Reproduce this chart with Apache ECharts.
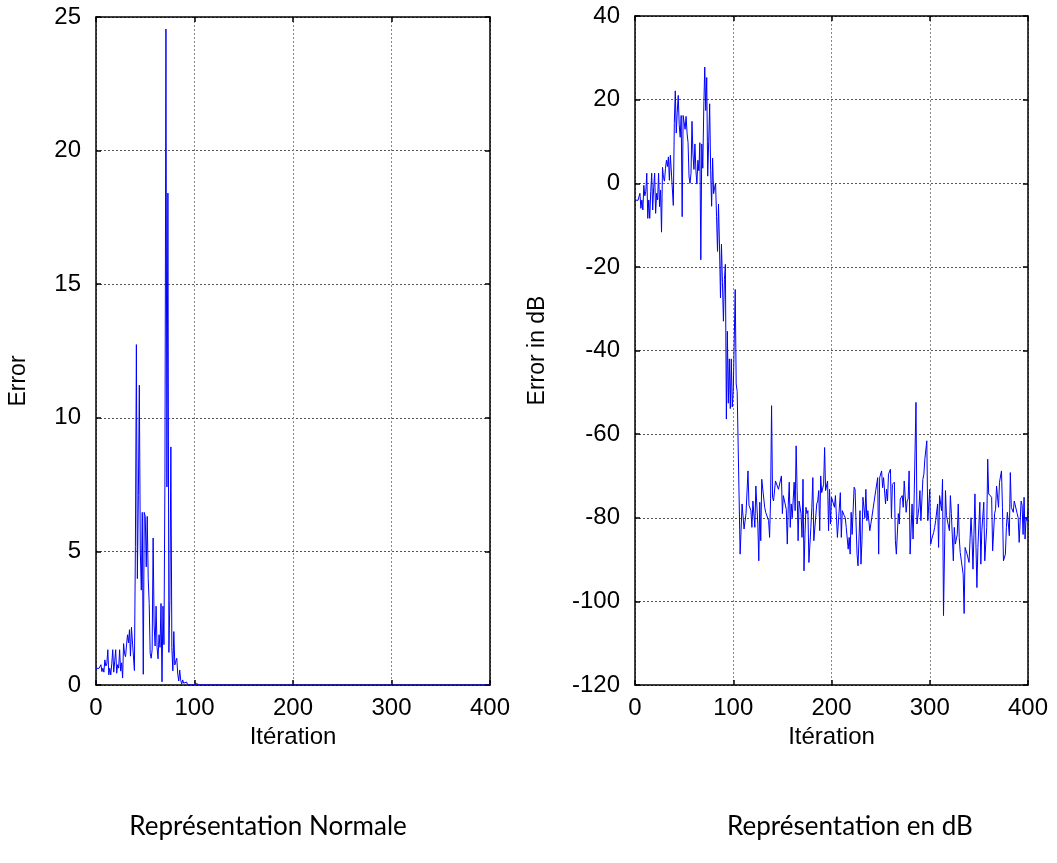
<!DOCTYPE html>
<html>
<head>
<meta charset="utf-8">
<script src="https://cdn.jsdelivr.net/npm/echarts@6/dist/echarts.min.js"></script>
<style>
html,body{margin:0;padding:0;background:#fff;}
#chart{width:1057px;height:863px;}
</style>
</head>
<body>
<div id="chart"></div>
<script>
// ---------- DATA ----------
const xTicks = [0, 100, 200, 300, 400];
const normTicks = [0, 5, 10, 15, 20, 25];
const dbTicks = [-120, -100, -80, -60, -40, -20, 0, 20, 40];

// Left plot: error (linear)
const normIterations = [
  0,1,2,3,4,5,6,7,8,9,10,11,12,13,14,15,16,17,18,19,
  20,21,22,23,24,25,26,27,28,29,30,31,32,33,34,35,36,37,38,39,
  40,41,42,43,44,45,46,47,48,49,50,51,52,53,54,55,56,57,58,59,
  60,61,62,63,64,65,66,67,68,69,70,71,72,73,74,75,76,77,78,79,
  80,81,82,83,84,85,86,87,88,89,90,91,92,93,94,95,96,97,98,99,
  100,101,102,103,104,105,106,107,150,200,250,300,350,400
];
const normErrors = [
  0.63,0.63,0.62,0.62,0.63,0.76,0.50,0.63,0.48,0.94,0.71,0.79,1.32,0.38,0.63,0.38,0.79,1.32,0.48,0.89,
  1.32,0.44,0.76,0.63,1.32,0.52,0.83,0.26,1.55,1.17,1.06,1.50,1.88,1.58,2.07,1.08,2.16,2.11,2.16,0.54,
  5.19,12.74,3.98,7.08,11.22,5.01,3.55,6.46,0.40,6.46,6.31,4.42,6.31,3.98,3.05,1.19,1.00,1.32,5.50,2.24,
  1.46,2.95,1.41,0.98,1.88,1.41,3.05,0.12,2.95,1.51,7.94,24.55,7.41,18.41,1.22,3.16,8.91,1.41,0.53,2.00,
  0.75,0.89,1.00,0.40,0.15,0.56,0.18,0.04,0.19,0.07,0.02,0.07,0.11,0.002,0.017,0.002,0.008,0.002,0.008,0.002,
  0.003,0.003,0.054,0.004,0.003,0.003,0.00004,0.0001,0.0001,0.0001,0.0001,0.0001,0.0001,0.0001
];

// Right plot: error in dB
const dbIterations = [
  0,1,2,3,4,5,6,7,8,9,10,11,12,13,14,15,16,17,18,19,
  20,21,22,23,24,25,26,27,28,29,30,31,32,33,34,35,36,37,38,39,
  40,41,42,43,44,45,46,47,48,49,50,51,52,53,54,55,56,57,58,59,
  60,61,62,63,64,65,66,67,68,69,70,71,72,73,74,75,76,77,78,79,
  80,81,82,83,84,85,86,87,88,89,90,91,92,93,94,95,96,97,98,99,
  100,101,102,103,104,105,106,107,
  109,110,111,113,115,116,118,119,120,122,123,125,126,127,128,129,131,132,133,135,
  136,137,138,139,140,141,143,144,146,147,149,150,151,153,154,155,156,157,158,159,
  160,162,163,164,165,166,167,169,170,171,172,173,174,175,176,177,179,180,181,182,
  184,185,186,187,188,189,190,192,193,194,195,196,197,198,199,200,202,203,204,206,
  207,209,210,211,213,214,215,217,218,219,220,221,223,224,225,226,227,229,230,231,
  232,234,235,236,237,238,239,241,242,245,247,248,249,251,252,253,255,256,257,258,
  260,261,262,264,265,266,268,269,270,272,273,274,276,277,278,279,280,282,283,284,
  286,287,289,290,291,293,294,295,297,298,300,301,302,304,305,306,308,309,310,312,
  313,314,316,317,318,320,321,322,324,325,326,328,329,330,331,333,334,335,336,338,
  339,340,342,343,344,345,346,347,348,349,351,352,353,355,356,358,359,360,362,363,
  364,366,367,368,370,371,373,374,375,377,378,379,381,382,383,385,386,387,389,390,
  391,393,394,395,396,397,398,399,400
];
const dbValues = [
  -4.0,-4.0,-4.2,-4.1,-4.0,-2.4,-6.0,-4.0,-6.4,-0.5,-3.0,-2.0,2.4,-8.4,-4.0,-8.4,-2.0,2.4,-6.4,-1.0,
  2.4,-7.2,-2.4,-4.0,2.4,-5.6,-1.6,-11.7,3.8,1.4,0.5,3.5,5.5,4.0,6.3,0.7,6.7,6.5,6.7,-5.3,
  14.3,22.1,12.0,17.0,21.0,14.0,11.0,16.2,-8.0,16.2,16.0,12.9,16.0,12.0,9.7,1.5,0.0,2.4,14.8,7.0,
  3.3,9.4,3.0,-0.2,5.5,3.0,9.7,-18.3,9.4,3.6,18.0,27.8,17.4,25.3,1.7,10.0,19.0,3.0,-5.5,6.0,
  -2.5,-1.0,0.0,-8.0,-16.3,-5.0,-15.0,-27.4,-14.6,-23.8,-33.0,-23.0,-19.4,-56.4,-35.4,-52.6,-42.0,-53.9,-42.0,-53.5,
  -49.8,-49.8,-25.4,-48.0,-49.8,-49.8,-49.8,-88.7,
  -76.7,-76.3,-82.7,-79.0,-68.8,-77.0,-78.3,-82.3,-76.0,-82.3,-72.4,-81.5,-90.3,-76.3,-85.5,-70.8,-70.4,-77.5,-78.7,-78.7,
  -80.7,-84.7,-75.5,-53.2,-75.1,-76.0,-71.2,-70.8,-73.2,-73.2,-70.0,-79.0,-74.7,-74.7,-78.0,-86.3,-77.0,-71.5,-82.3,-76.7,
  -80.0,-71.5,-78.3,-62.8,-73.5,-85.5,-76.0,-79.0,-84.7,-70.8,-92.7,-84.0,-77.5,-79.0,-78.3,-90.7,-82.3,-77.5,-70.4,-85.5,
  -85.9,-76.7,-76.0,-73.5,-83.1,-70.0,-74.0,-72.0,-63.2,-73.5,-73.5,-71.2,-83.1,-73.2,-81.5,-75.1,-74.7,-77.5,-74.7,-84.7,
  -84.7,-74.0,-84.7,-78.3,-79.5,-80.0,-82.3,-87.5,-84.7,-88.7,-78.7,-84.0,-72.7,-73.2,-81.5,-88.7,-91.5,-78.3,-91.1,-85.5,
  -75.1,-80.0,-73.2,-80.7,-78.3,-78.7,-83.1,-80.0,-80.0,-73.5,-70.4,-88.7,-70.4,-68.8,-72.8,-70.4,-76.7,-73.2,-76.0,-69.6,
  -68.4,-80.0,-72.0,-71.5,-85.5,-88.7,-79.0,-81.5,-75.5,-74.7,-77.5,-71.2,-78.7,-76.0,-75.5,-68.8,-88.7,-76.7,-85.1,-76.7,
  -52.4,-81.5,-77.5,-73.5,-80.7,-70.8,-69.6,-66.0,-61.6,-80.7,-73.2,-86.3,-85.1,-83.5,-82.3,-80.7,-76.7,-87.1,-74.7,-78.3,
  -70.8,-103.4,-73.5,-79.5,-79.5,-83.1,-74.7,-79.0,-90.3,-82.3,-86.3,-84.0,-76.7,-84.7,-88.3,-88.7,-93.5,-102.9,-87.1,-88.7,
  -88.3,-90.7,-80.0,-84.7,-92.3,-84.0,-74.3,-86.3,-96.7,-87.1,-76.3,-91.1,-83.1,-76.3,-90.3,-82.3,-66.0,-74.3,-74.7,-75.1,
  -87.9,-79.0,-78.0,-72.4,-77.5,-71.5,-68.8,-77.5,-90.3,-88.7,-82.3,-78.7,-84.3,-69.2,-77.5,-78.7,-76.0,-76.3,-79.0,-80.0,
  -85.9,-76.0,-77.0,-84.0,-75.1,-85.1,-80.0,-80.7,-78.0
];

// ---------- CHART ----------
const FONT = 'Liberation Sans';
const pairs = (xs, ys) => xs.map((x, i) => [x, ys[i]]);

function mainX(grid, name) {
  return {
    gridIndex: grid, type: 'value', position: 'bottom',
    min: xTicks[0], max: xTicks[xTicks.length - 1], interval: 100,
    name: name, nameLocation: 'middle', nameGap: 39,
    nameTextStyle: { fontFamily: FONT, fontSize: 24, color: '#000' },
    axisLine: { show: true, onZero: false, lineStyle: { color: '#000', width: 1.5 } },
    axisTick: { show: true, inside: true, length: 5, lineStyle: { color: '#000', width: 1.5 } },
    axisLabel: { show: true, margin: 11, fontFamily: FONT, fontSize: 24, color: '#000' },
    splitLine: { show: true, lineStyle: { color: '#888', type: [2, 2], width: 1 } }
  };
}
function boxX(grid) {
  return {
    gridIndex: grid, type: 'value', position: 'top',
    min: xTicks[0], max: xTicks[xTicks.length - 1], interval: 100,
    axisLine: { show: true, onZero: false, lineStyle: { color: '#000', width: 1.5 } },
    axisTick: { show: true, inside: true, length: 5, lineStyle: { color: '#000', width: 1.5 } },
    axisLabel: { show: false }, splitLine: { show: false }
  };
}
function mainY(grid, ticks, name, gap, pad) {
  return {
    gridIndex: grid, type: 'value', position: 'left',
    min: ticks[0], max: ticks[ticks.length - 1], interval: ticks[1] - ticks[0],
    name: name, nameLocation: 'middle', nameGap: gap,
    nameTextStyle: { fontFamily: FONT, fontSize: 23, color: '#000', padding: pad },
    axisLine: { show: true, onZero: false, lineStyle: { color: '#000', width: 1.5 } },
    axisTick: { show: true, inside: true, length: 5, lineStyle: { color: '#000', width: 1.5 } },
    axisLabel: { show: true, margin: 15, fontFamily: FONT, fontSize: 24, color: '#000' },
    splitLine: { show: true, lineStyle: { color: '#555', type: [2, 2], width: 1 } }
  };
}
function boxY(grid, ticks) {
  return {
    gridIndex: grid, type: 'value', position: 'right',
    min: ticks[0], max: ticks[ticks.length - 1], interval: ticks[1] - ticks[0],
    axisLine: { show: true, onZero: false, lineStyle: { color: '#000', width: 1.5 } },
    axisTick: { show: true, inside: true, length: 5, lineStyle: { color: '#000', width: 1.5 } },
    axisLabel: { show: false }, splitLine: { show: false }
  };
}

const chart = echarts.init(document.getElementById('chart'), null, { renderer: 'canvas' });
chart.setOption({
  animation: false,
  backgroundColor: '#fff',
  grid: [
    { left: 96, top: 17, width: 394, height: 668 },
    { left: 635, top: 16, width: 393, height: 669 }
  ],
  xAxis: [mainX(0, 'Itération'), boxX(0), mainX(1, 'Itération'), boxX(1)],
  yAxis: [
    mainY(0, normTicks, 'Error', 66, [0, 60, 0, 0]),
    boxY(0, normTicks),
    mainY(1, dbTicks, 'Error in dB', 86, 0),
    boxY(1, dbTicks)
  ],
  series: [
    {
      type: 'line', xAxisIndex: 0, yAxisIndex: 0, showSymbol: false, symbol: 'none',
      data: pairs(normIterations, normErrors),
      lineStyle: { color: '#0000ff', width: 1 }, clip: true
    },
    {
      type: 'line', xAxisIndex: 2, yAxisIndex: 2, showSymbol: false, symbol: 'none',
      data: pairs(dbIterations, dbValues),
      lineStyle: { color: '#0000ff', width: 1 }, clip: true
    }
  ],
  graphic: [
    { type: 'text', x: 268, y: 827, style: { text: 'Représentation Normale', fontFamily: 'Lato', fontSize: 26, fill: '#000', textAlign: 'center', textVerticalAlign: 'middle' } },
    { type: 'text', x: 850, y: 827, style: { text: 'Représentation en dB', fontFamily: 'Lato', fontSize: 26, fill: '#000', textAlign: 'center', textVerticalAlign: 'middle' } }
  ]
});
</script>
</body>
</html>
